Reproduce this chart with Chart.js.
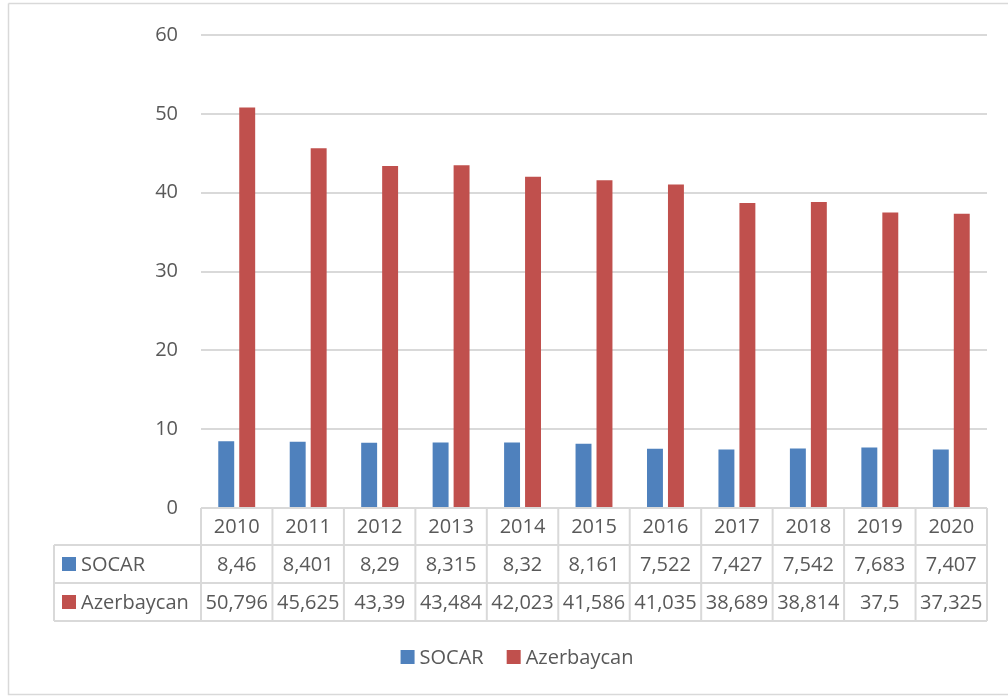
<!DOCTYPE html>
<html>
<head>
<meta charset="utf-8">
<script src="https://cdn.jsdelivr.net/npm/chart.js@4"></script>
<style>
html,body{margin:0;padding:0;background:#fff;}
#wrap{width:1008px;height:697px;position:relative;}
</style>
</head>
<body>
<div id="wrap"><canvas id="c" width="1008" height="697"></canvas></div>
<script>
const years = ['2010','2011','2012','2013','2014','2015','2016','2017','2018','2019','2020'];
const socar = [8.46, 8.401, 8.29, 8.315, 8.32, 8.161, 7.522, 7.427, 7.542, 7.683, 7.407];
const azerbaycan = [50.796, 45.625, 43.39, 43.484, 42.023, 41.586, 41.035, 38.689, 38.814, 37.5, 37.325];
const seriesNames = ['SOCAR', 'Azerbaycan'];
const yTicks = [0, 10, 20, 30, 40, 50, 60];

const FONT = '"Open Sans", "Noto Sans", sans-serif';
const TXT = '#595959';
const GRID = '#d9d9d9';
const COLORS = ['#4f81bd', '#c0504d'];

function fmt(v){ return String(v).replace('.', ','); }

const tablePlugin = {
  id: 'dataTable',
  beforeDraw(chart){
    const ctx = chart.ctx;
    ctx.save();
    ctx.fillStyle = '#fff';
    ctx.fillRect(0,0,chart.width,chart.height);
    ctx.strokeStyle = GRID;
    ctx.lineWidth = 1.5;
    ctx.beginPath();
    ctx.moveTo(8.5, 3.5); ctx.lineTo(1010, 3.5);
    ctx.moveTo(8.5, 3.5); ctx.lineTo(8.5, 694.5);
    ctx.lineTo(1010, 694.5);
    ctx.stroke();
    ctx.restore();
  },
  afterDraw(chart){
    const ctx = chart.ctx;
    const xs = chart.scales.x;
    const area = chart.chartArea;
    const n = years.length;
    const step = (area.right - area.left) / n;
    const top = area.bottom;
    const rowH = [37, 38, 38];
    const r1 = top + rowH[0], r2 = r1 + rowH[1], r3 = r2 + rowH[2];
    const tableLeft = 54;
    ctx.save();
    ctx.strokeStyle = GRID;
    ctx.lineWidth = 2;
    ctx.beginPath();
    ctx.moveTo(area.left, top); ctx.lineTo(area.right, top);
    ctx.moveTo(tableLeft, r1); ctx.lineTo(area.right, r1);
    ctx.moveTo(tableLeft, r2); ctx.lineTo(area.right, r2);
    ctx.moveTo(tableLeft, r3); ctx.lineTo(area.right, r3);
    for (let i = 0; i <= n; i++){
      const x = area.left + i*step;
      ctx.moveTo(x, top); ctx.lineTo(x, r3);
    }
    ctx.moveTo(tableLeft, r1); ctx.lineTo(tableLeft, r3);
    ctx.stroke();

    ctx.font = '20px ' + FONT;
    ctx.fillStyle = TXT;
    ctx.textBaseline = 'middle';
    ctx.textAlign = 'center';
    const data = [socar, azerbaycan];
    for (let i = 0; i < n; i++){
      const cx = xs.getPixelForValue(i);
      ctx.fillText(years[i], cx, (top + r1)/2 + 1);
      ctx.fillText(fmt(data[0][i]), cx, (r1 + r2)/2 + 1);
      ctx.fillText(fmt(data[1][i]), cx, (r2 + r3)/2 + 1);
    }
    ctx.textAlign = 'left';
    const rows = [[r1, r2], [r2, r3]];
    rows.forEach((r, k) => {
      const cy = (r[0] + r[1]) / 2;
      ctx.fillStyle = COLORS[k];
      ctx.fillRect(62, cy - 7, 14, 14);
      ctx.fillStyle = TXT;
      ctx.fillText(seriesNames[k], 81, cy + 1);
    });

    // legend
    const ly = 657;
    const gapMarker = 5, gapItem = 23, box = 14;
    const widths = seriesNames.map(s => ctx.measureText(s).width);
    const total = widths.reduce((a, w) => a + box + gapMarker + w, 0) + gapItem * (seriesNames.length - 1);
    let lx = 517 - total / 2;
    seriesNames.forEach((s, k) => {
      ctx.fillStyle = COLORS[k];
      ctx.fillRect(lx, ly - 7, box, box);
      ctx.fillStyle = TXT;
      ctx.fillText(s, lx + box + gapMarker, ly + 1);
      lx += box + gapMarker + widths[k] + gapItem;
    });
    ctx.restore();
  }
};

new Chart(document.getElementById('c'), {
  type: 'bar',
  data: {
    labels: years,
    datasets: [
      { label: seriesNames[0], data: socar, backgroundColor: COLORS[0] },
      { label: seriesNames[1], data: azerbaycan, backgroundColor: COLORS[1] }
    ]
  },
  options: {
    responsive: false,
    animation: false,
    devicePixelRatio: 1,
    categoryPercentage: 0.587,
    barPercentage: 0.76,
    layout: { padding: { top: 20, right: 21, left: 0, bottom: 76 } },
    plugins: {
      tooltip: { enabled: false },
      legend: { display: false }
    },
    scales: {
      x: {
        grid: { display: false, drawTicks: false },
        border: { display: false },
        ticks: { display: false },
        afterFit(scale){ scale.height = 113; }
      },
      y: {
        min: 0, max: 60,
        afterBuildTicks(scale){ scale.ticks = yTicks.map(v => ({ value: v })); },
        grid: { color: GRID, lineWidth: 2, drawTicks: false },
        border: { display: false },
        ticks: {
          color: TXT,
          font: { family: FONT, size: 20 },
          padding: 23
        },
        afterFit(scale){ scale.width = 201; }
      }
    }
  },
  plugins: [tablePlugin]
});
</script>
</body>
</html>
